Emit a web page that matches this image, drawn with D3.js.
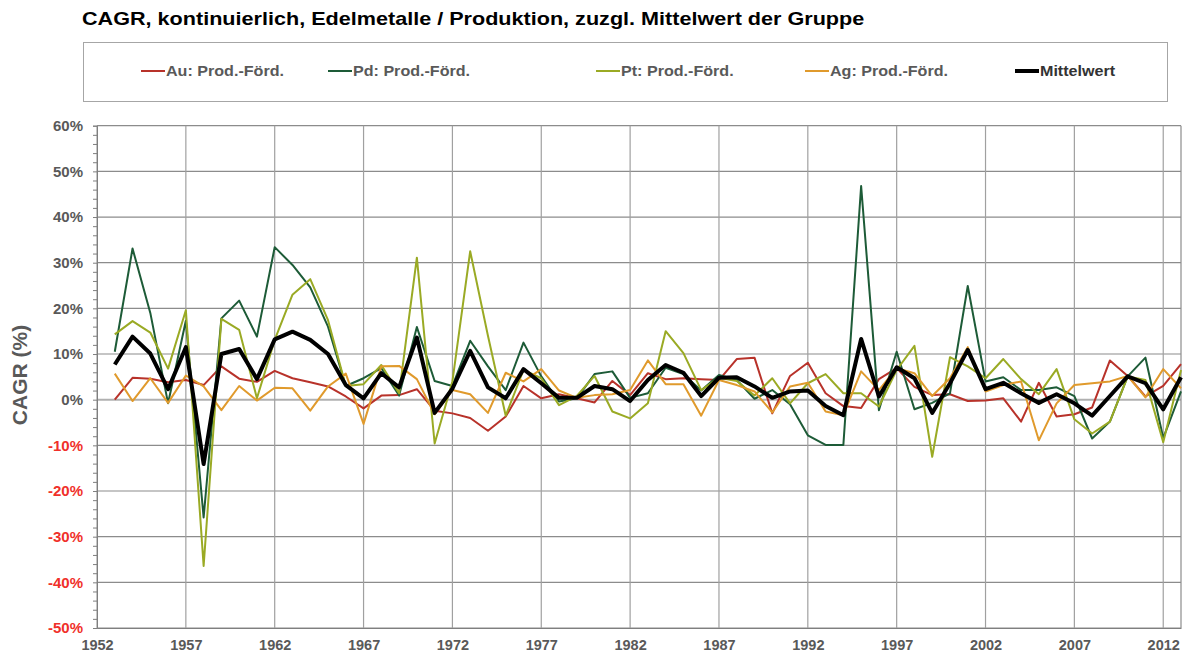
<!DOCTYPE html>
<html>
<head>
<meta charset="utf-8">
<script src="https://cdn.jsdelivr.net/npm/d3@7"></script>
<style>
  body { margin: 0; background: #fff; }
  svg { display: block; font-family: Arial, "Liberation Sans", sans-serif; }
</style>
</head>
<body>
<svg id="chart" width="1187" height="657"></svg>
<script>
// Years 1953..2013
const years = d3.range(1953, 2014);

// CAGR values in %
const au = [0, 4.8, 4.6, 3.8, 4.3, 3.2, 7.3, 4.6, 3.9, 6.3, 4.7, 3.8, 2.9, 0.7, -1.9,
  0.9, 1.0, 2.3, -2.4, -3.0, -4.0, -6.8, -3.7, 3.0, 0.3, 1.2, 0.3, -0.6, 4.1, 1.0,
  5.8, 4.5, 4.7, 4.5, 4.3, 8.9, 9.2, -3.0, 5.2, 8.1, 1.4, -1.4, -1.8, 4.5, 6.9,
  2.8, 1.0, 1.2, -0.3, -0.2, 0.3, -4.8, 3.7, -3.7, -3.2, -1.7, 8.6, 5.2, 0.7, 3.0, 7.8];
const pd = [10.5, 33.1, 19, -0.8, 17.3, -25.8, 17.8, 21.7, 13.8, 33.4, 29.5, 24.6, 16, 3.0, 4.7,
  6.9, 0.9, 15.9, 4.1, 3.0, 12.9, 7.3, 2.1, 12.5, 5.1, -0.4, 0.3, 5.6, 6.2, 0.4,
  1.4, 7.0, 5.6, 2.0, 5.4, 4.3, 0.2, 2.1, -1.0, -7.8, -9.9, -9.9, 46.8, -2.3, 10.5,
  -2.1, -0.7, 1.4, 24.9, 4.0, 4.9, 2.1, 2.1, 2.7, 0.8, -8.5, -4.8, 5.1, 9.2, -8.4, 1.8];
const pt = [14.3, 17.2, 14.7, 6.8, 19.6, -36.4, 17.7, 15.3, 0.3, 13.1, 23, 26.4, 17.4, 3.0, 3.4,
  7.6, 1.4, 31.1, -9.6, 4.0, 32.5, 14.0, -3.5, 6.5, 4.7, -1.2, 0.8, 5.2, -2.6, -4.1,
  -0.8, 15.0, 10.2, 2.1, 4.8, 4.1, 0.9, 4.7, -0.8, 3.6, 5.6, 1.4, 1.4, -1.5, 6.5,
  11.8, -12.5, 9.3, 7.3, 4.7, 8.9, 4.5, 1.2, 6.7, -4.3, -7.4, -4.8, 5.1, 4.3, -9.3, 6.5];
const ag = [5.7, -0.3, 4.7, -0.7, 5.3, 2.9, -2.3, 3.0, -0.2, 2.6, 2.5, -2.4, 2.9, 5.7, -5.3,
  7.3, 7.4, 4.5, -3.2, 2.1, 1.2, -2.9, 5.9, 4.0, 6.7, 2.0, 0.4, 1.0, 1.2, 2.1,
  8.6, 3.4, 3.4, -3.5, 4.3, 3.2, 1.8, -2.8, 2.9, 3.7, -2.6, -3.4, 6.2, 2.1, 6.9,
  5.8, 0.8, 4.7, 11.5, 1.8, 3.2, 4.0, -8.9, -0.8, 3.2, 3.6, 4.0, 5.2, 0.5, 6.7, 2.5];
const mean = [7.7, 13.8, 10.1, 2.3, 11.5, -14.1, 10, 11.1, 4.5, 13.2, 14.9, 13.1, 10, 3.2, 0.3,
  5.8, 2.7, 13.6, -2.9, 2.4, 10.7, 2.7, 0.3, 6.7, 3.6, 0.4, 0.4, 3.0, 2.3, -0.3,
  4.3, 7.6, 5.9, 0.8, 4.8, 4.9, 2.9, 0.4, 1.8, 2.0, -1.4, -3.4, 13.3, 0.7, 7.1,
  4.7, -2.9, 3.6, 10.9, 2.3, 3.7, 1.4, -0.7, 1.2, -0.8, -3.5, 0.8, 5.1, 3.6, -2.1, 4.9];

const seriesNames = ['Au: Prod.-Förd.', 'Pd: Prod.-Förd.', 'Pt: Prod.-Förd.', 'Ag: Prod.-Förd.', 'Mittelwert'];
const seriesColors = ['#b8322a', '#1d5b37', '#9aaa24', '#e09a2c', '#000000'];
const seriesValues = [au, pd, pt, ag, mean];
const xTicks = d3.range(1952, 2013, 5);
const yTicks = d3.range(-50, 61, 10);

const svg = d3.select('#chart');
const L = 97, R = 1181, T = 125.7, B = 628;

const x = d3.scaleLinear().domain([1952, 2013]).range([L, R]);
const y = d3.scaleLinear().domain([-50, 60]).range([B, T]);

// title (source text is a bit wider than its height suggests)
svg.append('text')
  .attr('transform', 'translate(82,25) scale(1.2,1)')
  .attr('font-size', 18).attr('font-weight', 'bold').attr('fill', '#000')
  .text('CAGR, kontinuierlich, Edelmetalle / Produktion, zuzgl. Mittelwert der Gruppe');

// legend box
svg.append('rect')
  .attr('x', 83.5).attr('y', 42.5).attr('width', 1084).attr('height', 59)
  .attr('fill', 'none').attr('stroke', '#a6a6a6').attr('stroke-width', 1);

const legendX = [141, 328, 596, 805, 1015];
seriesNames.forEach((name, i) => {
  const g = svg.append('g').attr('transform', `translate(${legendX[i]},71)`);
  g.append('line').attr('x1', 0).attr('x2', 24).attr('y1', 0).attr('y2', 0)
    .attr('stroke', seriesColors[i]).attr('stroke-width', i === 4 ? 4 : 2);
  g.append('text').attr('transform', 'translate(25,5) scale(1.15,1)')
    .attr('font-size', 14).attr('font-weight', 'bold').attr('fill', i === 4 ? '#333' : '#595959')
    .text(name);
});

// horizontal gridlines
svg.append('g').selectAll('line').data(yTicks).enter().append('line')
  .attr('x1', L).attr('x2', R)
  .attr('y1', d => y(d)).attr('y2', d => y(d))
  .attr('stroke', d => d === 0 ? '#b0b0b0' : '#8c8c8c')
  .attr('stroke-width', d => d === 0 ? 2 : 1.2);

// vertical gridlines
svg.append('g').selectAll('line').data(xTicks).enter().append('line')
  .attr('x1', d => x(d)).attr('x2', d => x(d))
  .attr('y1', T).attr('y2', B)
  .attr('stroke', '#a0a0a0').attr('stroke-width', 1.2);

// right border
svg.append('line').attr('x1', R).attr('x2', R).attr('y1', T).attr('y2', B)
  .attr('stroke', '#8c8c8c').attr('stroke-width', 1.2);

// y axis with minor ticks
const yAxisMinor = d3.axisLeft(y).tickValues(d3.range(-50, 61, 2)).tickSize(4).tickFormat('');
svg.append('g').attr('transform', `translate(${L},0)`).call(yAxisMinor)
  .call(g => g.select('.domain').attr('stroke', '#7f7f7f'))
  .call(g => g.selectAll('.tick line').attr('stroke', '#7f7f7f'));

const yAxis = d3.axisLeft(y).tickValues(yTicks).tickSize(0).tickPadding(14)
  .tickFormat(d => d + '%');
svg.append('g').attr('transform', `translate(${L},0)`).call(yAxis)
  .call(g => g.select('.domain').remove())
  .call(g => g.selectAll('.tick text')
    .attr('font-size', 15).attr('font-weight', 'bold')
    .attr('font-family', 'Arial, "Liberation Sans", sans-serif')
    .attr('fill', d => d < 0 ? '#f0302a' : '#595959'));

// x axis
const xAxis = d3.axisBottom(x).tickValues(xTicks).tickSize(0).tickPadding(12)
  .tickFormat(d3.format('d'));
svg.append('g').attr('transform', `translate(0,${B})`).call(xAxis)
  .call(g => g.select('.domain').attr('stroke', '#7f7f7f').attr('stroke-width', 1.2))
  .call(g => g.selectAll('.tick text')
    .attr('font-size', 14.5).attr('font-weight', 'bold')
    .attr('font-family', 'Arial, "Liberation Sans", sans-serif')
    .attr('fill', '#595959'));

// y axis title
svg.append('text')
  .attr('transform', `translate(27,375) rotate(-90)`)
  .attr('text-anchor', 'middle')
  .attr('font-size', 21).attr('font-weight', 'bold').attr('fill', '#595959')
  .text('CAGR (%)');

// series lines
const line = d3.line().x((d, i) => x(years[i])).y(d => y(d));
seriesValues.forEach((vals, i) => {
  svg.append('path')
    .datum(vals)
    .attr('d', line)
    .attr('fill', 'none')
    .attr('stroke', seriesColors[i])
    .attr('stroke-width', i === 4 ? 4 : 2)
    .attr('stroke-linejoin', 'round');
});
</script>
</body>
</html>
